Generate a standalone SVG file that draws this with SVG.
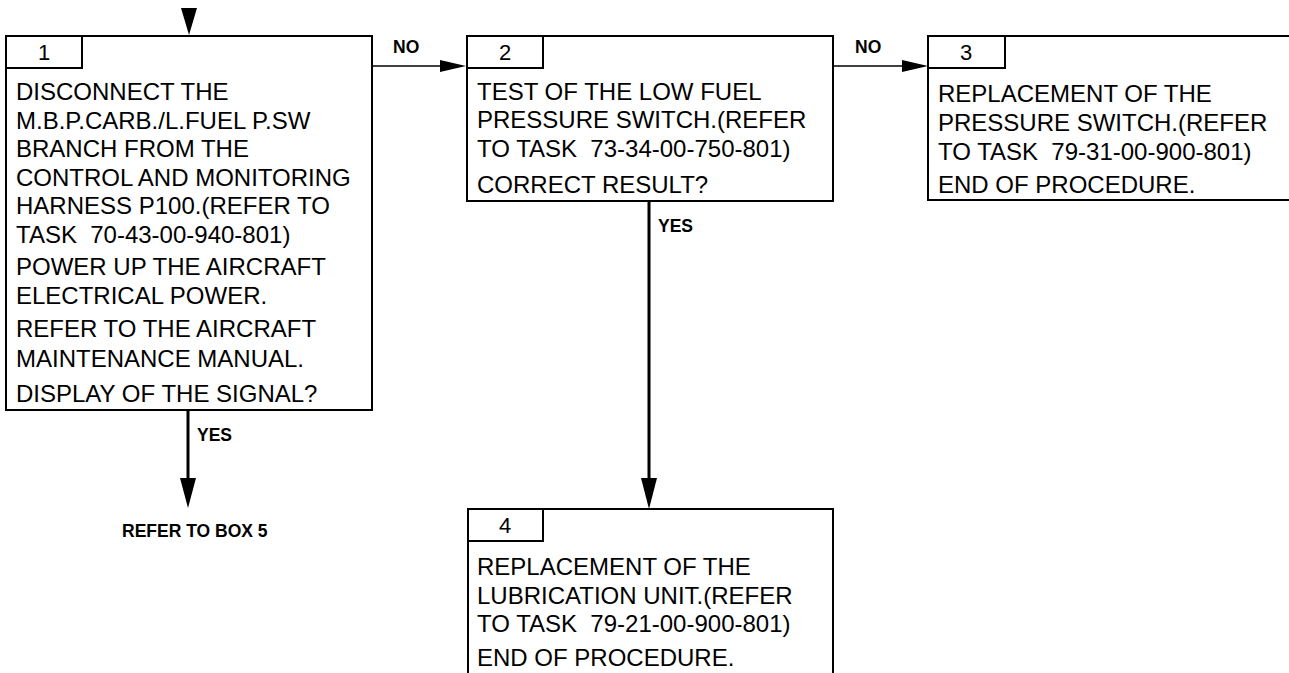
<svg xmlns="http://www.w3.org/2000/svg" width="1289" height="673" viewBox="0 0 1289 673">
<style>
.box{fill:none;stroke:#000;stroke-width:2}
.t{font-family:"Liberation Sans",Arial,sans-serif;font-size:24px;fill:#000;white-space:pre}
.n{font-family:"Liberation Sans",Arial,sans-serif;font-size:22px;fill:#000;text-anchor:middle}
.lbl{font-family:"Liberation Sans",Arial,sans-serif;font-size:17.5px;font-weight:bold;fill:#000}
.thin{stroke:#000;stroke-width:1.5;fill:none}
.thick{stroke:#000;stroke-width:3;fill:none}
.ah{fill:#000;stroke:none}
</style>
<rect width="1289" height="673" fill="#fff"/>
<g id="connectors">
<polygon class="ah" points="181,8 197,8 189,35"/>
<line class="thin" x1="372" y1="66" x2="442" y2="66"/>
<polygon class="ah" points="440,60 466,66 440,72"/>
<text class="lbl" x="393" y="53">NO</text>
<line class="thin" x1="833" y1="66" x2="904" y2="66"/>
<polygon class="ah" points="902,60 928,66 902,72"/>
<text class="lbl" x="855" y="53">NO</text>
<line class="thick" x1="188" y1="410" x2="188" y2="480"/>
<polygon class="ah" points="180,478 196,478 188,508"/>
<text class="lbl" x="197" y="441">YES</text>
<text class="lbl" x="122" y="537">REFER TO BOX 5</text>
<line class="thick" x1="649" y1="201" x2="649" y2="480"/>
<polygon class="ah" points="641,478 657,478 649,509"/>
<text class="lbl" x="658" y="232">YES</text>
</g>
<g id="node1">
<rect class="box" x="6" y="36" width="366" height="374"/>
<rect class="box" x="6" y="36" width="76" height="32"/>
<text class="n" x="44" y="60">1</text>
<text class="t" x="16" y="100">DISCONNECT THE</text>
<text class="t" x="16" y="129">M.B.P.CARB./L.FUEL P.SW</text>
<text class="t" x="16" y="157">BRANCH FROM THE</text>
<text class="t" x="16" y="186">CONTROL AND MONITORING</text>
<text class="t" x="16" y="214">HARNESS P100.(REFER TO</text>
<text class="t" x="16" y="243">TASK  70-43-00-940-801)</text>
<text class="t" x="16" y="275">POWER UP THE AIRCRAFT</text>
<text class="t" x="16" y="304">ELECTRICAL POWER.</text>
<text class="t" x="16" y="337">REFER TO THE AIRCRAFT</text>
<text class="t" x="16" y="367">MAINTENANCE MANUAL.</text>
<text class="t" x="16" y="402">DISPLAY OF THE SIGNAL?</text>
</g>
<g id="node2">
<rect class="box" x="467" y="36" width="366" height="165"/>
<rect class="box" x="467" y="36" width="76" height="32"/>
<text class="n" x="505" y="60">2</text>
<text class="t" x="477" y="100">TEST OF THE LOW FUEL</text>
<text class="t" x="477" y="128">PRESSURE SWITCH.(REFER</text>
<text class="t" x="477" y="157">TO TASK  73-34-00-750-801)</text>
<text class="t" x="477" y="193">CORRECT RESULT?</text>
</g>
<g id="node3">
<rect class="box" x="928" y="36" width="370" height="164"/>
<rect class="box" x="928" y="36" width="77" height="32"/>
<text class="n" x="966" y="60">3</text>
<text class="t" x="938" y="102">REPLACEMENT OF THE</text>
<text class="t" x="938" y="131">PRESSURE SWITCH.(REFER</text>
<text class="t" x="938" y="160">TO TASK  79-31-00-900-801)</text>
<text class="t" x="938" y="193">END OF PROCEDURE.</text>
</g>
<g id="node4">
<rect class="box" x="468" y="509" width="365" height="180"/>
<rect class="box" x="468" y="509" width="75" height="32"/>
<text class="n" x="505" y="533">4</text>
<text class="t" x="477" y="575">REPLACEMENT OF THE</text>
<text class="t" x="477" y="604">LUBRICATION UNIT.(REFER</text>
<text class="t" x="477" y="632">TO TASK  79-21-00-900-801)</text>
<text class="t" x="477" y="666">END OF PROCEDURE.</text>
</g>
</svg>
